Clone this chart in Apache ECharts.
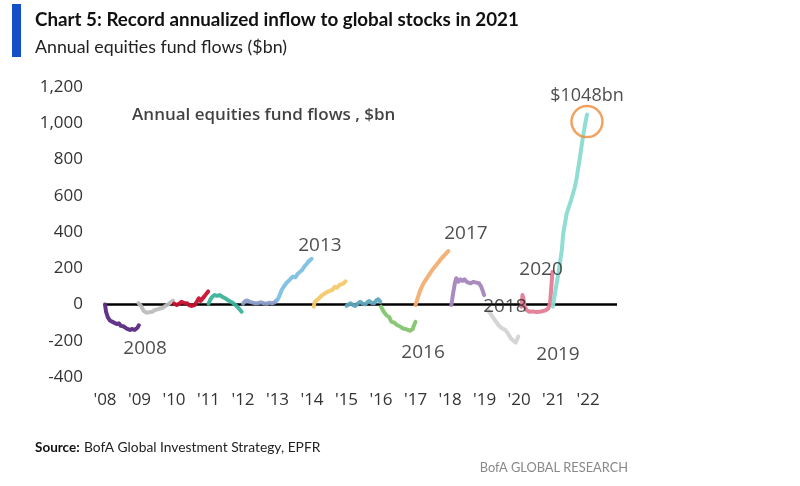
<!DOCTYPE html>
<html>
<head>
<meta charset="utf-8">
<script src="https://cdn.jsdelivr.net/npm/echarts@6/dist/echarts.min.js"></script>
<style>
  html, body { margin: 0; padding: 0; background: #fff; }
  #chart { width: 800px; height: 486px; }
</style>
</head>
<body>
<div id="chart"></div>
<script>
// x is the year as a decimal (2008.5 = mid 2008), y is annualized flow in $bn
const years = [2008, 2009, 2010, 2011, 2012, 2013, 2014, 2015, 2016, 2017, 2018, 2019, 2020, 2021]
const yearColors = ['#5b2a82', '#bdbdbd', '#c8102e', '#3bb39a', '#8a9cc8', '#7dc0e3', '#f6c96a',
  '#5fa6be', '#84c46f', '#f3ae72', '#a585bc', '#d3d3d3', '#e37c95', '#8adbd1']

const flows2008 = [[2008.00, 0], [2008.03, -40], [2008.08, -70], [2008.14, -88], [2008.19, -95], [2008.26, -100],
  [2008.34, -108], [2008.40, -104], [2008.46, -118], [2008.53, -120], [2008.58, -128], [2008.63, -133],
  [2008.68, -126], [2008.72, -140], [2008.78, -135], [2008.82, -128], [2008.86, -140], [2008.90, -142],
  [2008.94, -128], [2008.98, -115]]
const flows2009 = [[2008.97, 8], [2009.05, -10], [2009.12, -35], [2009.20, -45], [2009.25, -48], [2009.30, -42],
  [2009.38, -40], [2009.45, -30], [2009.52, -27], [2009.60, -22], [2009.68, -18], [2009.75, -8],
  [2009.82, 0], [2009.90, 12], [2009.97, 22]]
const flows2010 = [[2010.00, 5], [2010.08, -3], [2010.15, 5], [2010.22, 15], [2010.30, 8], [2010.38, 7],
  [2010.45, -5], [2010.52, -8], [2010.60, -3], [2010.66, 15], [2010.72, 34], [2010.77, 20],
  [2010.82, 15], [2010.88, 45], [2010.94, 60], [2010.99, 72]]
const flows2011 = [[2011.00, 5], [2011.06, 30], [2011.12, 45], [2011.18, 52], [2011.25, 48], [2011.32, 52],
  [2011.40, 43], [2011.48, 35], [2011.55, 25], [2011.62, 18], [2011.70, 10], [2011.78, -3],
  [2011.85, -15], [2011.90, -22], [2011.96, -40]]
const flows2012 = [[2012.00, 5], [2012.06, 18], [2012.12, 22], [2012.20, 15], [2012.28, 10], [2012.36, 6],
  [2012.44, 8], [2012.52, 12], [2012.60, 7], [2012.68, 4], [2012.76, 10], [2012.84, 6], [2012.92, 12],
  [2012.98, 24]]
const flows2013 = [[2013.00, 25], [2013.06, 50], [2013.12, 80], [2013.18, 98], [2013.25, 117], [2013.32, 130],
  [2013.38, 142], [2013.45, 154], [2013.52, 150], [2013.58, 168], [2013.65, 180], [2013.72, 192],
  [2013.78, 210], [2013.85, 225], [2013.90, 238], [2013.99, 252]]
const flows2014 = [[2014.05, -12], [2014.08, 15], [2014.15, 25], [2014.23, 40], [2014.30, 52], [2014.38, 62],
  [2014.45, 70], [2014.52, 75], [2014.60, 82], [2014.66, 98], [2014.72, 92], [2014.80, 108],
  [2014.86, 112], [2014.92, 118], [2014.97, 128]]
const flows2015 = [[2015.00, -8], [2015.06, 0], [2015.12, 7], [2015.18, -2], [2015.25, -8], [2015.32, 5],
  [2015.40, 15], [2015.47, 5], [2015.54, 1], [2015.60, 12], [2015.66, 19], [2015.72, 10], [2015.80, 7],
  [2015.86, 22], [2015.92, 29], [2015.98, 15]]
const flows2016 = [[2016.00, -12], [2016.08, -40], [2016.16, -60], [2016.24, -70], [2016.30, -95],
  [2016.38, -100], [2016.46, -113], [2016.54, -120], [2016.62, -131], [2016.70, -135], [2016.78, -140],
  [2016.84, -145], [2016.88, -150], [2016.92, -135], [2016.96, -113], [2017.00, -95]]
const flows2017 = [[2017.00, -3], [2017.06, 34], [2017.14, 79], [2017.23, 117], [2017.33, 145],
  [2017.42, 172], [2017.52, 199], [2017.60, 218], [2017.70, 242], [2017.80, 264], [2017.90, 285],
  [2017.95, 295]]
const flows2018 = [[2018.04, -3], [2018.09, 62], [2018.14, 117], [2018.18, 145], [2018.24, 125],
  [2018.30, 139], [2018.36, 130], [2018.42, 139], [2018.48, 125], [2018.54, 121], [2018.60, 117],
  [2018.68, 125], [2018.76, 121], [2018.84, 117], [2018.90, 100], [2018.94, 79], [2018.99, 52]]
const flows2019 = [[2019.10, -31], [2019.20, -58], [2019.30, -86], [2019.40, -113], [2019.50, -131],
  [2019.60, -140], [2019.68, -160], [2019.76, -186], [2019.84, -200], [2019.90, -210], [2019.94, -195],
  [2019.98, -177]]
const flows2020 = [[2020.07, -12], [2020.10, 52], [2020.13, 30], [2020.16, -10], [2020.22, -31], [2020.30, -40],
  [2020.40, -38], [2020.50, -42], [2020.60, -40], [2020.70, -36], [2020.78, -31], [2020.85, -21],
  [2020.90, 7], [2020.93, 79], [2020.95, 135], [2020.97, 180]]
const flows2021 = [[2020.98, -12], [2021.05, 70], [2021.14, 170], [2021.24, 300], [2021.28, 390],
  [2021.38, 500], [2021.50, 570], [2021.62, 650], [2021.67, 697], [2021.77, 817], [2021.84, 909],
  [2021.91, 990], [2021.97, 1048]]
const yearFlows = [flows2008, flows2009, flows2010, flows2011, flows2012, flows2013, flows2014,
  flows2015, flows2016, flows2017, flows2018, flows2019, flows2020, flows2021]

const xTickLabels = ["'08", "'09", "'10", "'11", "'12", "'13", "'14", "'15", "'16", "'17", "'18", "'19", "'20", "'21", "'22"]

// year labels: [text, x, y]
const yearNotes = [['2008', 2009.16, -246], ['2013', 2014.23, 323], ['2016', 2017.22, -268],
  ['2017', 2018.46, 390], ['2018', 2019.59, -14], ['2019', 2021.13, -279], ['2020', 2020.64, 191]]
const caption = ['Annual equities fund flows , $bn', 2012.6, 1045]
const peak = [2021.97, 1048]
const peakLabel = ['$1048bn', 2021.97, 1152]

const chart = echarts.init(document.getElementById('chart'))

const lineSeries = years.map((y, i) => ({
  name: String(y),
  type: 'line',
  data: yearFlows[i],
  showSymbol: false,
  symbol: 'none',
  smooth: false,
  z: 3,
  lineStyle: { color: yearColors[i], width: 4, opacity: 0.95, cap: 'round', join: 'round' }
}))

// zero line
lineSeries[0].markLine = {
  silent: true,
  symbol: 'none',
  label: { show: false },
  lineStyle: { color: '#000', width: 2.5, type: 'solid' },
  data: [{ yAxis: 0 }],
  z: 2
}

const textBase = { fontFamily: 'Open Sans', color: '#222' }

const option = {
  animation: false,
  backgroundColor: '#fff',
  grid: { left: 105, right: 183, top: 87, bottom: 109 },
  xAxis: {
    type: 'value',
    min: 2008,
    max: 2022.84,
    interval: 1,
    splitLine: { show: false },
    axisLine: { show: false },
    axisTick: { show: false },
    axisLabel: {
      margin: 15,
      fontFamily: 'Open Sans',
      fontSize: 17,
      color: '#333',
      showMaxLabel: false,
      formatter: (v) => (Number.isInteger(v) ? xTickLabels[v - 2008] : '')
    }
  },
  yAxis: {
    type: 'value',
    min: -400,
    max: 1200,
    interval: 200,
    splitLine: { show: false },
    axisLine: { show: false },
    axisTick: { show: false },
    axisLabel: {
      margin: 22,
      fontFamily: 'Open Sans',
      fontSize: 17,
      color: '#333',
      formatter: (v) => v.toLocaleString('en-US')
    }
  },
  graphic: [
    { type: 'rect', left: 12, top: 4, shape: { width: 9, height: 53 }, style: { fill: '#1450c8' } },
    { type: 'text', left: 35, top: 10, style: { text: 'Chart 5: Record annualized inflow to global stocks in 2021', font: 'bold 18.8px Lato', fill: '#111' } },
    { type: 'text', left: 35, top: 38, style: { text: 'Annual equities fund flows ($bn)', font: '17.8px Lato', fill: '#222' } },
    { type: 'text', left: 35, top: 441, style: { text: 'Source:', font: 'bold 13.5px Lato', fill: '#111' } },
    { type: 'text', left: 84, top: 441, style: { text: 'BofA Global Investment Strategy, EPFR', font: '13.8px Lato', fill: '#222' } },
    { type: 'text', right: 172, top: 461, style: { text: 'BofA GLOBAL RESEARCH', font: '12.8px Lato', fill: '#888' } }
  ],
  series: [
    ...lineSeries,
    {
      type: 'scatter',
      silent: true,
      z: 5,
      symbolSize: 1,
      itemStyle: { color: 'rgba(0,0,0,0)' },
      label: {
        show: true,
        position: 'inside',
        ...textBase,
        fontSize: 19,
        formatter: (p) => p.value[2]
      },
      data: yearNotes.map((n) => [n[1], n[2], n[0]]).concat([
        {
          value: [caption[1], caption[2], caption[0]],
          label: { fontSize: 17, fontWeight: 600, color: '#111' }
        },
        {
          value: [peakLabel[1], peakLabel[2], peakLabel[0]],
          label: { fontSize: 18 }
        }
      ])
    },
    {
      type: 'scatter',
      silent: true,
      z: 6,
      symbol: 'circle',
      symbolSize: 31,
      symbolOffset: [0, 7],
      itemStyle: { color: 'rgba(0,0,0,0)', borderColor: '#ee8b3a', borderWidth: 2.5 },
      data: [peak]
    }
  ]
}

chart.setOption(option)
</script>
</body>
</html>
